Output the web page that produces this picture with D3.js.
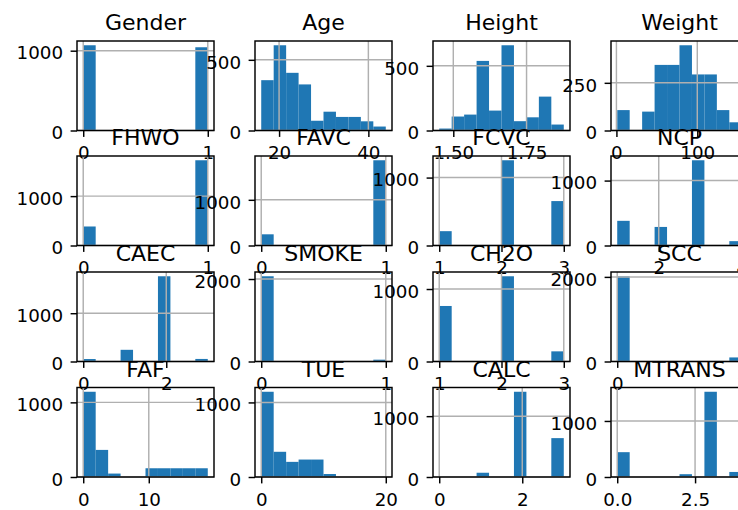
<!DOCTYPE html>
<html>
<head>
<meta charset="utf-8">
<script src="https://cdnjs.cloudflare.com/ajax/libs/d3/7.8.5/d3.min.js"></script>
<style>
  body { margin: 0; background: #fff; overflow: hidden; }
  svg { display: block; }
</style>
</head>
<body>
<div id="chart"></div>
<script>
const columns = ["Gender", "Age", "Height", "Weight", "FHWO", "FAVC", "FCVC", "NCP",
  "CAEC", "SMOKE", "CH2O", "SCC", "FAF", "TUE", "CALC", "MTRANS"];

// min / max of every column, i.e. outer edges of the 10 bins
const dataMin = [0, 16, 1.452, 1, 0, 0, 1, 1, 0, 0, 1, 0, 0, 0, 0, 0];
const dataMax = [1, 43.9, 1.877, 155, 1, 1, 3, 4, 3, 1, 3, 1, 19, 20, 3, 4];

// counts per bin (10 bins each)
const genderCounts = [1068, 0, 0, 0, 0, 0, 0, 0, 0, 1043];
const ageCounts = [356, 603, 408, 326, 69, 133, 96, 96, 65, 28];
const heightCounts = [15, 108, 123, 538, 154, 659, 72, 102, 262, 46];
const weightCounts = [107, 0, 99, 344, 344, 447, 294, 294, 107, 43];
const fhwoCounts = [385, 0, 0, 0, 0, 0, 0, 0, 0, 1726];
const favcCounts = [245, 0, 0, 0, 0, 0, 0, 0, 0, 1866];
const fcvcCounts = [211, 0, 0, 0, 0, 1255, 0, 0, 0, 654];
const ncpCounts = [380, 0, 0, 286, 0, 0, 1313, 0, 0, 67];
const caecCounts = [51, 0, 0, 242, 0, 0, 1765, 0, 0, 53];
const smokeCounts = [2067, 0, 0, 0, 0, 0, 0, 0, 0, 44];
const ch2oCounts = [766, 0, 0, 0, 0, 1176, 0, 0, 0, 140];
const sccCounts = [2015, 0, 0, 0, 0, 0, 0, 0, 0, 96];
const fafCounts = [1142, 363, 46, 0, 0, 117, 117, 117, 117, 117];
const tueCounts = [1143, 338, 203, 234, 234, 40, 0, 0, 0, 0];
const calcCounts = [1, 0, 0, 70, 0, 0, 1401, 0, 0, 639];
const mtransCounts = [443, 0, 0, 0, 0, 50, 0, 1521, 0, 90];

const binCounts = [genderCounts, ageCounts, heightCounts, weightCounts,
  fhwoCounts, favcCounts, fcvcCounts, ncpCounts,
  caecCounts, smokeCounts, ch2oCounts, sccCounts,
  fafCounts, tueCounts, calcCounts, mtransCounts];

// tick labels
const xTicks = [[0, 1], [20, 40], [1.5, 1.75], [0, 100],
  [0, 1], [0, 1], [1, 2, 3], [2, 4],
  [0, 2], [0, 1], [1, 2, 3], [0, 1],
  [0, 10], [0, 20], [0, 2], [0, 2.5]];
const xTickFormat = ["d", "d", ".2f", "d", "d", "d", "d", "d",
  "d", "d", "d", "d", "d", "d", "d", ".1f"];
const yTicks = [[0, 1000], [0, 500], [0, 500], [0, 250],
  [0, 1000], [0, 1000], [0, 1000], [0, 1000],
  [0, 1000], [0, 2000], [0, 1000], [0, 2000],
  [0, 1000], [0, 1000], [0, 1000], [0, 1000]];

var width = 738, height = 510;
var colLeft = [77, 255, 433, 611];
var rowTop = [41, 156, 272, 387.5];
var w = 137, h = 89.5;
var lw = 1.46;
var font = "'DejaVu Sans', sans-serif";

var svg = d3.select("#chart").append("svg")
  .attr("width", width)
  .attr("height", height);

columns.forEach(function(name, i) {
  var row = Math.floor(i / 4), col = i % 4;
  var lo = dataMin[i], hi = dataMax[i], range = hi - lo;
  var counts = binCounts[i];

  var x = d3.scaleLinear()
    .domain([lo - 0.05 * range, hi + 0.05 * range])
    .range([0, w]);
  var y = d3.scaleLinear()
    .domain([0, d3.max(counts) * 1.05])
    .range([h, 0]);

  var g = svg.append("g")
    .attr("transform", "translate(" + colLeft[col] + "," + rowTop[row] + ")");

  var bins = counts.map(function(c, j) {
    return { x0: lo + j * range / 10, x1: lo + (j + 1) * range / 10, count: c };
  }).filter(function(d) { return d.count > 0; });

  g.selectAll("rect.bar")
    .data(bins)
    .enter().append("rect")
    .attr("class", "bar")
    .attr("x", function(d) { return x(d.x0); })
    .attr("width", function(d) { return x(d.x1) - x(d.x0); })
    .attr("y", function(d) { return y(d.count); })
    .attr("height", function(d) { return h - y(d.count); })
    .attr("fill", "#1f77b4");

  // grid sits above the bars (matplotlib axisbelow='line')
  g.selectAll("line.vgrid")
    .data(xTicks[i])
    .enter().append("line")
    .attr("x1", function(d) { return x(d); })
    .attr("x2", function(d) { return x(d); })
    .attr("y1", 0).attr("y2", h)
    .attr("stroke", "#b0b0b0").attr("stroke-width", lw);
  g.selectAll("line.hgrid")
    .data(yTicks[i])
    .enter().append("line")
    .attr("x1", 0).attr("x2", w)
    .attr("y1", function(d) { return y(d); })
    .attr("y2", function(d) { return y(d); })
    .attr("stroke", "#b0b0b0").attr("stroke-width", lw);

  g.append("rect")
    .attr("width", w).attr("height", h)
    .attr("fill", "none")
    .attr("stroke", "#000").attr("stroke-width", lw);

  var xAxis = g.append("g")
    .attr("transform", "translate(0," + h + ")")
    .call(d3.axisBottom(x).tickValues(xTicks[i]).tickFormat(d3.format(xTickFormat[i]))
      .tickSize(6.4).tickPadding(9.6));
  var yAxis = g.append("g")
    .call(d3.axisLeft(y).tickValues(yTicks[i]).tickFormat(d3.format("d"))
      .tickSize(6.4).tickPadding(7.5));

  [xAxis, yAxis].forEach(function(a) {
    a.select(".domain").remove();
    a.attr("font-family", font).attr("font-size", 18.3);
    a.selectAll(".tick line").attr("stroke", "#000").attr("stroke-width", lw);
    a.selectAll(".tick text").attr("fill", "#000");
  });
  yAxis.selectAll(".tick text").attr("dy", "0.45em");

  g.append("text")
    .attr("x", w / 2)
    .attr("y", -11)
    .attr("text-anchor", "middle")
    .attr("font-family", font)
    .attr("font-size", 22)
    .attr("fill", "#000")
    .text(name);
});
</script>
</body>
</html>
